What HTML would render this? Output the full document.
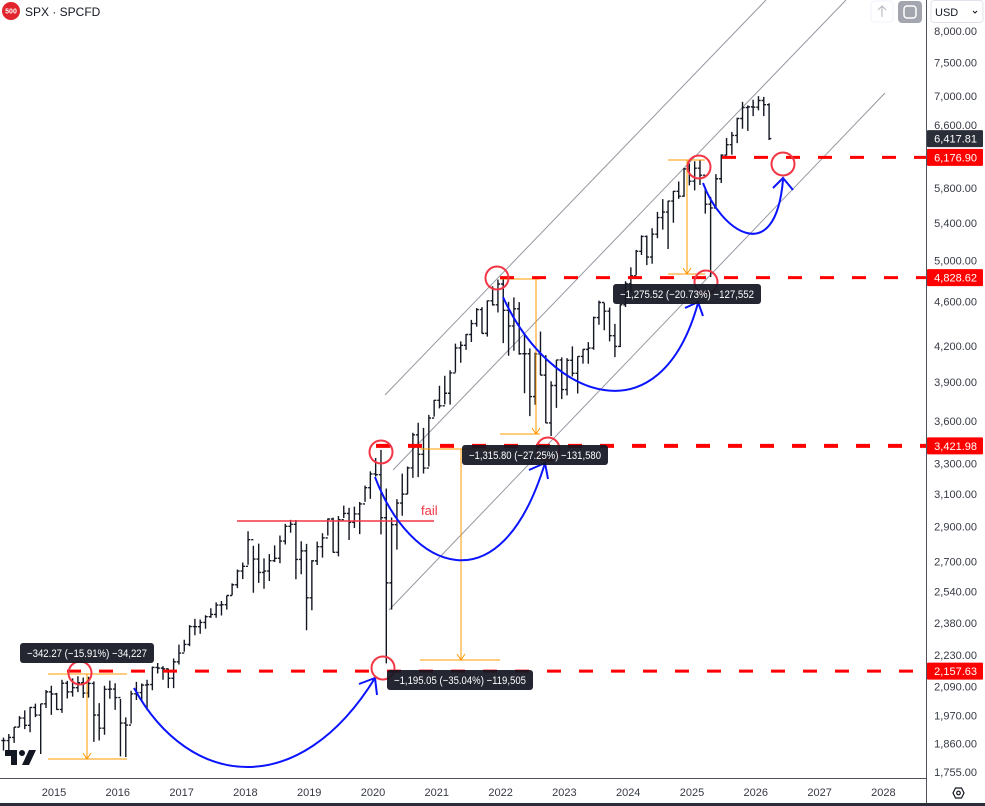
<!DOCTYPE html>
<html><head><meta charset="utf-8">
<style>
html,body{margin:0;padding:0;background:#fff;}
body{width:985px;height:806px;overflow:hidden;position:relative;font-family:"Liberation Sans",Arial,sans-serif;}
svg{position:absolute;left:0;top:0;}
</style></head>
<body>
<svg id="chart" width="985" height="806" viewBox="0 0 985 806">
  <defs><clipPath id="pane"><rect x="0" y="0" width="926" height="778"/></clipPath></defs>
  <g id="pane-g" clip-path="url(#pane)"></g>
  <g id="axis-g"></g>
  <g id="time-g"></g>
</svg>
<script>
// ---- data: monthly SPX from Mar 2014 ----
const closes = [1872,1884,1924,1960,1931,2003,1972,2018,2068,2059,
1995,2105,2068,2086,2107,2063,2104,1972,1920,2079,2080,2044,
1940,1932,2060,2065,2097,2099,2174,2171,2168,2126,2199,2239,
2279,2364,2363,2384,2412,2423,2470,2472,2519,2575,2648,2674,
2824,2714,2641,2648,2705,2718,2816,2902,2914,2712,2760,2507,
2704,2784,2834,2946,2752,2942,2980,2926,2977,3038,3141,3231,
3226,2954,2585,2912,3044,3100,3271,3500,3363,3270,3622,3756,
3714,3811,3973,4181,4204,4298,4395,4523,4308,4605,4567,4766,
4516,4374,4530,4132,4132,3785,4130,3955,3586,3872,4080,3840,
4077,3970,4109,4169,4180,4450,4589,4508,4288,4194,4568,4770,
4846,5096,5254,5036,5278,5460,5522,5648,5762,5705,6032,5882,
6041,5955,5612,5569,5912,6205,6339,6460,6688,6840,6849,6845,
6939,6880,6418];
const highs = [1883,1897,1924,1968,1991,2005,2019,2018,2076,2094,
2064,2120,2115,2126,2135,2130,2133,2113,2021,2094,2116,2105,
2038,1963,2073,2111,2104,2120,2178,2194,2180,2169,2214,2278,
2301,2371,2401,2398,2419,2454,2484,2491,2519,2582,2657,2695,
2873,2789,2801,2718,2742,2791,2848,2917,2941,2940,2815,2800,
2708,2813,2861,2949,2954,2964,3028,3014,3022,3050,3154,3248,
3338,3394,3136,2955,3068,3233,3280,3515,3588,3550,3646,3760,
3870,3950,3995,4218,4238,4302,4429,4537,4546,4608,4744,4809,
4818,4595,4637,4593,4307,4178,4141,4325,4120,3906,4080,4101,
4095,4195,4110,4170,4231,4458,4607,4584,4541,4393,4571,4793,
4931,5111,5265,5263,5342,5524,5670,5651,5767,5879,6044,6100,
6128,6147,5787,5696,5969,6215,6427,6508,6699,6920,6870,6950,
7002,6990,6900];
const lows = [1834,1814,1863,1925,1916,1904,1964,1821,2001,1973,
1993,1981,2040,2048,2067,2043,2044,1867,1872,1894,2039,1993,
1812,1810,1938,2034,2026,1992,2075,2147,2120,2084,2084,2187,
2245,2271,2322,2329,2353,2406,2407,2418,2447,2520,2557,2605,
2683,2533,2585,2554,2595,2698,2691,2796,2864,2604,2631,2346,
2444,2681,2722,2848,2750,2729,2952,2822,2892,2856,3051,3070,
3214,2855,2192,2447,2767,2966,3101,3205,3210,3234,3280,3633,
3695,3725,3723,3978,4057,4165,4233,4368,4306,4279,4560,4496,
4223,4115,4157,4124,3811,3637,3722,3954,3585,3492,3699,3765,
3794,3944,3809,4049,4048,4166,4385,4336,4238,4104,4188,4547,
4683,4853,5057,4954,4968,5234,5327,5120,5403,5674,5696,5832,
5773,5837,5505,4835,5578,5861,6202,6212,6360,6550,6521,6720,
6800,6720,6400];
const priceTicks = [8000,7500,7000,6600,5800,5400,5000,4600,4200,3900,3600,3300,3100,2900,2700,2540,2380,2230,2090,1970,1860,1755];
const yearTicks = [2015,2016,2017,2018,2019,2020,2021,2022,2023,2024,2025,2026,2027,2028];
const levels = [6176.90,4828.62,3421.98,2157.63];
const lastPrice = 6417.81;

const NS="http://www.w3.org/2000/svg";
const X=t=>54+(t-2015)*63.8;
const Y=p=>31+(Math.log(8000)-Math.log(p))*488.5;
const fmt=v=>v.toLocaleString('en-US',{minimumFractionDigits:2,maximumFractionDigits:2});
function mk(tag,attrs,parent){const e=document.createElementNS(NS,tag);for(const k in attrs)e.setAttribute(k,attrs[k]);parent.appendChild(e);return e;}
const pane=document.getElementById('pane-g'),axis=document.getElementById('axis-g'),time=document.getElementById('time-g');

[[385,395,766,0],[393,470,846,0],[389,610,885,93]].forEach((c,i)=>{
  const l=mk('line',{x1:c[0],y1:c[1],x2:c[2],y2:c[3],stroke:'#9598a1','stroke-width':1},pane);
  
  
});

const bars=mk('g',{stroke:'#131722','stroke-width':1.4,fill:'none'},pane);


for(let i=0;i<closes.length;i++){
  const t=2014+(2+i)/12+1/24, x=X(t);
  const o=i>0?closes[i-1]:closes[i];
  const b=mk('path',{d:`M${x},${Y(highs[i])}V${Y(lows[i])}M${x-2.2},${Y(o)}H${x}M${x},${Y(closes[i])}H${x+2.2}`},bars);
  
  
}

const fl=mk('line',{x1:237,y1:521,x2:434,y2:521,stroke:'#f23645','stroke-width':1.6},pane);

const ft=mk('text',{x:421,y:515,fill:'#f23645','font-size':13},pane);ft.textContent='fail';


const orange=[[48,674,127,759,87],[420,449,500,660,461],[500,279,540,434,536],[668,160,705,274,687]];
orange.forEach(o=>{
  const g=mk('g',{stroke:'#ff9800','stroke-width':1,fill:'none'},pane);
  
  mk('path',{d:`M${o[0]},${o[1]}H${o[2]}M${o[0]},${o[3]}H${o[2]}M${o[4]},${o[1]}V${o[3]}M${o[4]-4},${o[3]-6}L${o[4]},${o[3]}L${o[4]+4},${o[3]-6}`},g);
});

const levelStart=[722,500,376,67];
levels.forEach((v,i)=>{
  const l=mk('line',{x1:levelStart[i],y1:Y(v),x2:926,y2:Y(v),stroke:'#ff0000','stroke-width':i==2?4:3,'stroke-dasharray':'14 18'},pane);
  
});

const arcs=[["M134,688 C190,790 300,800 375,678","M359,684 L375,678 L377,695"],
["M375,477 C410,570 500,610 545,463","M529,470 L545,463 L548,479"],
["M503,297 C550,400 660,440 698,303","M685,308 L698,302 L703,316"],
["M703,183 C720,230 775,270 783,180","M773,188 L783,178 L793,190"]];
arcs.forEach(a=>{
  const g=mk('g',{stroke:'#0a14ff','stroke-width':2,fill:'none'},pane);
  
  mk('path',{d:a[0]},g);mk('path',{d:a[1]},g);
});

[[80,673],[383,668],[381,452],[548,449],[497,278],[706,282],[699,167],[783,164]].forEach(c=>{
  const e=mk('circle',{cx:c[0],cy:c[1],r:11.5,fill:'none',stroke:'#f23645','stroke-width':2},pane);
  
});

[[20,643,134,'−342.27 (−15.91%) −34,227'],[387,670,146,'−1,195.05 (−35.04%) −119,505'],
 [462,445,146,'−1,315.80 (−27.25%) −131,580'],[613,284,148,'−1,275.52 (−20.73%) −127,552']].forEach(b=>{
  const g=mk('g',{},pane);
  
  mk('rect',{x:b[0],y:b[1],width:b[2],height:20,rx:3,fill:'#131722','fill-opacity':0.93},g);
  const t=mk('text',{x:b[0]+7,y:b[1]+14,fill:'#fff','font-size':11,textLength:b[2]-14,lengthAdjust:'spacingAndGlyphs'},g);t.textContent=b[3];
});

const hd=mk('g',{},pane);

mk('circle',{cx:11,cy:11,r:9,fill:'#e0262c'},hd);
const hi=mk('text',{x:11,y:13.5,fill:'#fff','font-size':7,'text-anchor':'middle','font-weight':'bold'},hd);hi.textContent='500';
const ht=mk('text',{x:25,y:16,fill:'#131722','font-size':12},hd);ht.textContent='SPX · SPCFD';

const lg=mk('g',{fill:'#131722'},pane);

mk('path',{d:'M5,750H17V765H11V756H5Z'},lg);mk('circle',{cx:22,cy:753,r:3},lg);mk('path',{d:'M29,750H36L29,765H22Z'},lg);

mk('line',{x1:926.5,y1:0,x2:926.5,y2:806,stroke:'#50535e','stroke-width':1},axis);
priceTicks.forEach(p=>{
  const t=mk('text',{x:977,y:Y(p)+4,fill:'#363a45','font-size':11,'text-anchor':'end'},axis);
  t.textContent=fmt(p);
  
});
function tag(v,col){
  const g=mk('g',{},axis);
  
  mk('rect',{x:927,y:Y(v)-8.5,width:56,height:17,fill:col,rx:1},g);
  const t=mk('text',{x:977,y:Y(v)+4,fill:'#fff','font-size':11,'text-anchor':'end'},g);t.textContent=fmt(v);
}
tag(lastPrice,'#2a2e39');
levels.forEach(v=>tag(v,'#ff0000'));
const ub=mk('g',{},axis);
mk('rect',{x:931,y:0.5,width:52,height:22,rx:3,fill:'#fff',stroke:'#e0e3eb'},ub);
const ut=mk('text',{x:935,y:16,fill:'#131722','font-size':11},ub);ut.textContent='USD';
mk('path',{d:'M973,11l2,2l2,-2',stroke:'#131722',fill:'none'},ub);
const b1=mk('g',{},axis);
mk('rect',{x:871,y:1,width:22,height:21,rx:3,fill:'#fff',stroke:'#f0f3fa'},b1);
mk('path',{d:'M882,17V6M878,10l4,-4l4,4',stroke:'#b2b5be',fill:'none'},b1);
const b2=mk('g',{},axis);
mk('rect',{x:898,y:1,width:24,height:22,rx:4,fill:'#a3a6af'},b2);
mk('rect',{x:904,y:6,width:12,height:12,rx:3,fill:'none',stroke:'#fff','stroke-width':1.5},b2);

mk('line',{x1:0,y1:778.5,x2:926,y2:778.5,stroke:'#50535e','stroke-width':1},time);
mk('rect',{x:0,y:803,width:985,height:3,fill:'#2a2e39'},time);
yearTicks.forEach(yr=>{
  const t=mk('text',{x:X(yr),y:796,fill:'#363a45','font-size':11,'text-anchor':'middle'},time);
  t.textContent=yr;
  
});
const st=mk('g',{fill:'none',stroke:'#131722','stroke-width':1.2},time);

mk('path',{d:'M953,793l2.5,-5h6l2.5,5l-2.5,5h-6z'},st);mk('circle',{cx:958.5,cy:793,r:1.8},st);
</script>
</body></html>
